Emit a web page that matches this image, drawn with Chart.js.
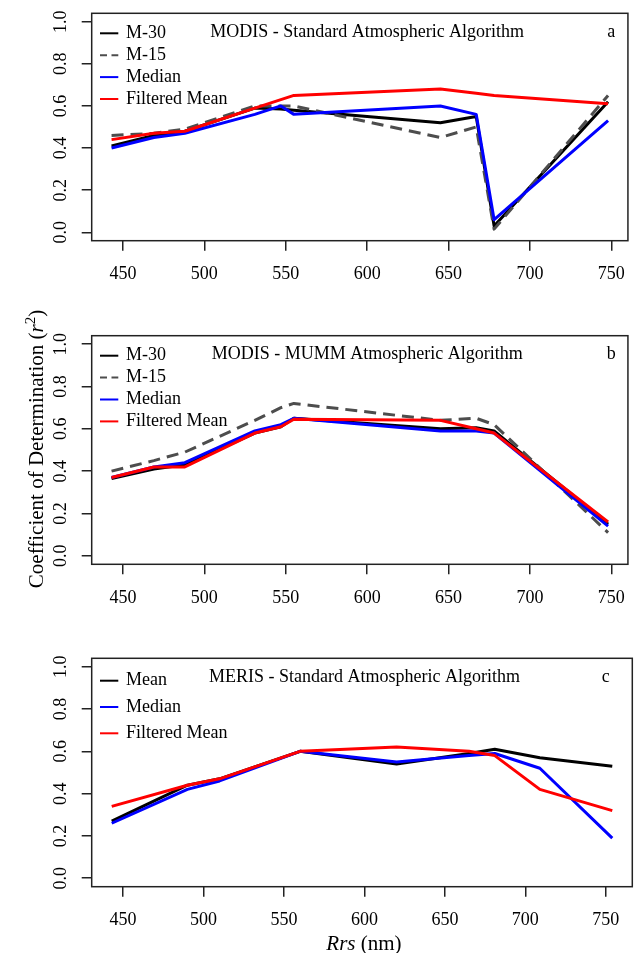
<!DOCTYPE html>
<html>
<head>
<meta charset="utf-8">
<script src="https://cdn.jsdelivr.net/npm/chart.js@4.4.0/dist/chart.umd.min.js"></script>
<style>
  body { margin: 0; background: #fff; width: 638px; height: 953px; position: relative; overflow: hidden; font-family: "Liberation Serif", serif; }
  .panel { position: absolute; left: 0; width: 638px; }
  .axis-title { position: absolute; font-size: 21px; line-height: 24px; text-align: center; color: #000; white-space: nowrap; }
  #yTitle { width: 400px; left: -167px; top: 434px; transform: rotate(-90deg); }
  #xTitle { width: 300px; left: 214px; top: 931px; }
</style>
</head>
<body>
<div class="panel" style="top:0;height:310px"><canvas id="chartA" width="638" height="310"></canvas></div>
<div class="panel" style="top:310px;height:320px"><canvas id="chartB" width="638" height="320"></canvas></div>
<div class="panel" style="top:630px;height:323px"><canvas id="chartC" width="638" height="323"></canvas></div>
<div class="axis-title" id="yTitle">Coefficient of Determination (<i>r</i><sup style="font-size:15px">2</sup>)</div>
<div class="axis-title" id="xTitle"><i>Rrs</i> (nm)</div>

<script>
// wavelengths (nm)
const BANDS_MODIS = [443, 469, 488, 531, 547, 555, 645, 667, 678, 748];
const BANDS_MERIS = [443, 490, 510, 560, 620, 665, 681, 709, 754];
const X_TICKS = [450, 500, 550, 600, 650, 700, 750];
const Y_TICKS = [0, 0.2, 0.4, 0.6, 0.8, 1.0];

// a - MODIS standard
const A_M30 = [0.41, 0.46, 0.48, 0.59, 0.585, 0.58, 0.52, 0.55, 0.03, 0.62];
const A_M15 = [0.46, 0.47, 0.49, 0.60, 0.60, 0.60, 0.45, 0.50, 0.015, 0.65];
const A_MED = [0.40, 0.45, 0.47, 0.56, 0.60, 0.56, 0.60, 0.56, 0.06, 0.53];
const A_FM  = [0.44, 0.47, 0.48, 0.59, 0.63, 0.65, 0.68, 0.66, 0.65, 0.61];

// b - MODIS MUMM
const B_M30 = [0.365, 0.41, 0.43, 0.58, 0.61, 0.65, 0.60, 0.605, 0.59, 0.15];
const B_M15 = [0.40, 0.45, 0.49, 0.64, 0.70, 0.72, 0.64, 0.65, 0.62, 0.11];
const B_MED = [0.37, 0.42, 0.44, 0.59, 0.62, 0.65, 0.59, 0.59, 0.58, 0.14];
const B_FM  = [0.37, 0.42, 0.42, 0.58, 0.61, 0.645, 0.64, 0.60, 0.58, 0.16];

// c - MERIS standard
const C_MEAN = [0.27, 0.44, 0.47, 0.60, 0.54, 0.59, 0.61, 0.57, 0.53];
const C_MED  = [0.26, 0.42, 0.46, 0.60, 0.55, 0.58, 0.59, 0.52, 0.19];
const C_FM   = [0.34, 0.44, 0.47, 0.60, 0.62, 0.60, 0.58, 0.42, 0.32];

// where R put the text() labels, in data units
const TITLE_AT = [600, 0.95];
const LETTER_AT = [750, 0.95];

const STYLE = {
  'M-30': { color: '#000000' },
  'Mean': { color: '#000000' },
  'M-15': { color: '#4d4d4d', dash: [12, 7] },
  'Median': { color: '#0000ff' },
  'Filtered Mean': { color: '#ff0000' }
};

const panels = [
  { id: 'chartA', h: 310, box: { left: 91.7, top: 13.3, right: 632.3, bottom: 240.7 }, bands: BANDS_MODIS,
    series: [['M-30', A_M30], ['M-15', A_M15], ['Median', A_MED], ['Filtered Mean', A_FM]],
    title: 'MODIS - Standard Atmospheric Algorithm', letter: 'a', legendTop: 20, legendGap: 21.9 },
  { id: 'chartB', h: 320, box: { left: 91.7, top: 25.7, right: 632.3, bottom: 254.3 }, bands: BANDS_MODIS,
    series: [['M-30', B_M30], ['M-15', B_M15], ['Median', B_MED], ['Filtered Mean', B_FM]],
    title: 'MODIS - MUMM Atmospheric Algorithm', letter: 'b', legendTop: 20, legendGap: 21.9 },
  { id: 'chartC', h: 323, box: { left: 91.7, top: 28.3, right: 632.3, bottom: 256.7 }, bands: BANDS_MERIS,
    series: [['Mean', C_MEAN], ['Median', C_MED], ['Filtered Mean', C_FM]],
    title: 'MERIS - Standard Atmospheric Algorithm', letter: 'c', legendTop: 22.4, legendGap: 26.3 }
];

Chart.defaults.font.family = '"Liberation Serif", serif';
Chart.defaults.font.size = 18;
Chart.defaults.color = '#000';

// box, rotated y labels, title and legend drawn the way R does
const rPlot = {
  id: 'rPlot',
  afterDraw(chart, args, opts) {
    const { ctx, chartArea: a, scales: { x, y } } = chart;
    ctx.save();
    ctx.strokeStyle = '#222';
    ctx.lineWidth = 1.5;
    ctx.strokeRect(a.left, a.top, a.right - a.left, a.bottom - a.top);

    ctx.fillStyle = '#000';
    ctx.font = '18px "Liberation Serif", serif';
    ctx.textAlign = 'center';
    ctx.textBaseline = 'middle';
    y.ticks.forEach(t => {
      ctx.save();
      ctx.translate(a.left - 30, y.getPixelForValue(t.value));
      ctx.rotate(-Math.PI / 2);
      ctx.fillText(t.value.toFixed(1), 0, 0);
      ctx.restore();
    });

    ctx.fillText(opts.title, x.getPixelForValue(TITLE_AT[0]), y.getPixelForValue(TITLE_AT[1]));
    ctx.fillText(opts.letter, x.getPixelForValue(LETTER_AT[0]), y.getPixelForValue(LETTER_AT[1]));

    ctx.textAlign = 'left';
    chart.data.datasets.forEach((ds, i) => {
      const ly = a.top + opts.legendTop + i * opts.legendGap;
      ctx.beginPath();
      ctx.setLineDash(ds.borderDash.length ? [7, 4.5] : []);
      ctx.strokeStyle = ds.borderColor;
      ctx.lineWidth = 2;
      ctx.moveTo(a.left + 8.3, ly);
      ctx.lineTo(a.left + 26.6, ly);
      ctx.stroke();
      ctx.setLineDash([]);
      ctx.fillText(ds.label, a.left + 34.3, ly);
    });
    ctx.restore();
  }
};

function rRange(arr) {
  // R pads the axis range by 4% on each side
  const lo = Math.min(...arr), hi = Math.max(...arr), d = (hi - lo) * 0.04;
  return [lo - d, hi + d];
}

const tickGrid = { drawOnChartArea: false, drawTicks: true, tickLength: 10, color: '#222', lineWidth: 1.5 };

panels.forEach(p => {
  const n = p.series.length;
  const [xmin, xmax] = rRange(p.bands);
  const datasets = p.series.map(([label, vals], i) => ({
    label: label,
    data: p.bands.map((b, j) => ({ x: b, y: vals[j] })),
    borderColor: STYLE[label].color,
    borderDash: STYLE[label].dash || [],
    borderWidth: 3,
    borderJoinStyle: 'round',
    pointRadius: 0,
    tension: 0,
    fill: false,
    order: n - i
  }));

  new Chart(document.getElementById(p.id), {
    type: 'line',
    data: { datasets },
    plugins: [rPlot],
    options: {
      responsive: false,
      animation: false,
      layout: { padding: { left: 0, top: p.box.top, right: 638 - p.box.right, bottom: 0 } },
      plugins: {
        legend: { display: false },
        tooltip: { enabled: false },
        rPlot: { title: p.title, letter: p.letter, legendTop: p.legendTop, legendGap: p.legendGap }
      },
      scales: {
        x: {
          type: 'linear', min: xmin, max: xmax,
          afterBuildTicks: s => { s.ticks = X_TICKS.map(v => ({ value: v })); },
          afterFit: s => { s.height = p.h - p.box.bottom; },
          ticks: { padding: 13, maxRotation: 0, autoSkip: false, callback: v => String(v) },
          grid: tickGrid,
          border: { display: false }
        },
        y: {
          type: 'linear', min: -0.04, max: 1.04,
          afterBuildTicks: s => { s.ticks = Y_TICKS.map(v => ({ value: v })); },
          afterFit: s => { s.width = p.box.left; },
          ticks: { display: false },
          grid: tickGrid,
          border: { display: false }
        }
      }
    }
  });
});
</script>
</body>
</html>
